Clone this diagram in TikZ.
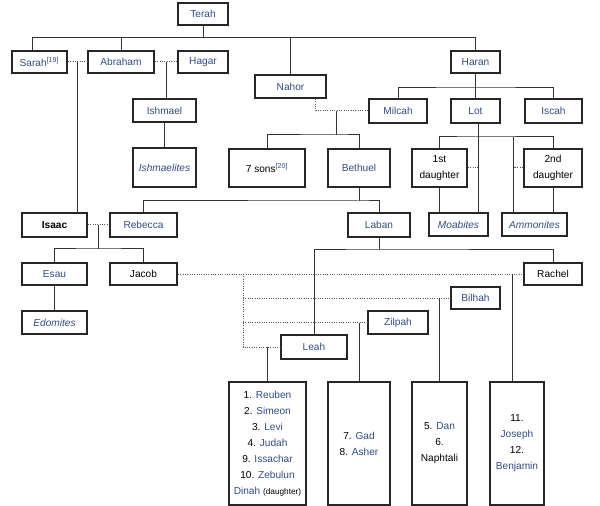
\documentclass[tikz,border=0pt]{standalone}
\usepackage{fontspec}
\setmainfont{Liberation Sans}
\usepackage{xcolor}
\usepackage{tikz}
\usetikzlibrary{calc}
\definecolor{linkblue}{RGB}{50,76,128}
\newcommand{\linkname}[1]{\textcolor{linkblue}{#1}}
\newcommand{\refmark}[1]{\textsuperscript{\linkname{[#1]}}}

\begin{document}
\begin{tikzpicture}[x=0.75pt, y=-0.75pt,
  person/.style={draw=black!85, line width=1.5pt, fill=white, minimum height=16.5pt,
    inner sep=1pt, align=center, font=\fontsize{7.6}{12}\selectfont},
  link/.style={text=linkblue},
  kin/.style={draw=black!80, line width=0.75pt},
  wed/.style={draw=black!65, line width=0.75pt, densely dotted}]
\useasboundingbox (0,0) rectangle (600,506);

% Terah and his children
\node[person, link, minimum width=37.5pt] (terah) at (203,14) {Terah};
\node[person, minimum width=41.25pt] (sarah) at (39.5,62) {\linkname{Sarah}\refmark{19}};
\node[person, link, minimum width=49.5pt] (abraham) at (121,62) {Abraham};
\node[person, link, minimum width=37.5pt] (hagar) at (203,62) {Hagar};
\node[person, link, minimum width=53.25pt, minimum height=17.25pt] (nahor) at (290.5,86.5) {Nahor};
\node[person, link, minimum width=36.75pt] (haran) at (475.5,62) {Haran};

% Haran's children
\node[person, link, minimum width=43.5pt, minimum height=18pt] (milcah) at (398,111) {Milcah};
\node[person, link, minimum width=36.75pt, minimum height=18pt] (lot) at (475.5,111) {Lot};
\node[person, link, minimum width=42.75pt, minimum height=18pt] (iscah) at (553.5,111) {Iscah};

% Ishmael
\node[person, link, minimum width=47.25pt, minimum height=17.25pt] (ishmael) at (164.5,110.5) {Ishmael};
\node[person, link, minimum width=47.25pt, minimum height=29.25pt] (ishmaelites) at (164.5,167.5) {\textit{Ishmaelites}};

% Nahor's and Lot's descendants
\node[person, minimum width=57pt, minimum height=28.5pt] (sevensons) at (267,168) {7 sons\refmark{20}};
\node[person, link, minimum width=46.5pt, minimum height=28.5pt] (bethuel) at (359,168) {Bethuel};
\node[person, minimum width=41.25pt, minimum height=28.5pt] (firstdaughter) at (439.5,168) {1st\\daughter};
\node[person, minimum width=43.5pt, minimum height=28.5pt] (seconddaughter) at (553,168) {2nd\\daughter};
\node[person, link, minimum width=44.25pt, minimum height=17.25pt] (moabites) at (458.5,224.5) {\textit{Moabites}};
\node[person, link, minimum width=48.75pt, minimum height=17.25pt] (ammonites) at (534.5,224.5) {\textit{Ammonites}};

% Isaac, Rebecca, Laban
\node[person, minimum width=48.75pt, minimum height=18pt] (isaac) at (54.5,225) {\textbf{Isaac}};
\node[person, link, minimum width=50.25pt, minimum height=18pt] (rebecca) at (143.5,225) {Rebecca};
\node[person, link, minimum width=46.5pt, minimum height=18pt] (laban) at (379,225) {Laban};

% Esau, Jacob and the wives
\node[person, link, minimum width=48.75pt] (esau) at (54.5,274) {Esau};
\node[person, minimum width=50.25pt] (jacob) at (143.5,274) {Jacob};
\node[person, link, minimum width=48.75pt, minimum height=17.25pt] (edomites) at (54.5,322.5) {\textit{Edomites}};
\node[person, minimum width=43.5pt] (rachel) at (553,274) {Rachel};
\node[person, link, minimum width=36.75pt] (bilhah) at (475.5,298) {Bilhah};
\node[person, link, minimum width=45pt, minimum height=17.25pt] (zilpah) at (398,322.5) {Zilpah};
\node[person, link, minimum width=49.5pt, minimum height=18pt] (leah) at (314,347) {Leah};

% Sons of Jacob
\node[person, minimum width=57.75pt, minimum height=92.25pt] (leahsons) at (267.5,443.5)
  {1. \linkname{Reuben}\\2. \linkname{Simeon}\\3. \linkname{Levi}\\4. \linkname{Judah}\\
   9. \linkname{Issachar}\\10. \linkname{Zebulun}\\\linkname{Dinah} {\fontsize{6.2}{7}\selectfont(daughter)}};
\node[person, minimum width=46.5pt, minimum height=92.25pt] (zilpahsons) at (359,443.5)
  {7. \linkname{Gad}\\8. \linkname{Asher}};
\node[person, minimum width=41.25pt, minimum height=92.25pt] (bilhahsons) at (439.5,443.5)
  {5. \linkname{Dan}\\6.\\Naphtali};
\node[person, minimum width=40.5pt, minimum height=92.25pt] (rachelsons) at (517,443.5)
  {11.\\\linkname{Joseph}\\12.\\\linkname{Benjamin}};

% Terah's line
\coordinate (terahbar) at (0,38);
\draw[kin] (terah) -- (terah |- terahbar);
\draw[kin] ([xshift=-4.9pt]sarah.north) |- (haran.north |- terahbar) -- (haran.north);
\draw[kin] (abraham) -- (abraham |- terahbar);
\draw[kin] (nahor) -- (nahor |- terahbar);

% Abraham's wives
\draw[wed] (sarah) -- (abraham);
\draw[wed] (abraham) -- (hagar);
\coordinate (sarahabraham) at ($(sarah.east)!0.5!(abraham.west)$);
\coordinate (abrahamhagar) at ($(abraham.east)!0.5!(hagar.west)$);
\draw[kin] (sarahabraham) -- (sarahabraham |- isaac.north);
\draw[kin] (abrahamhagar) -- (abrahamhagar |- ishmael.north);
\draw[kin] (ishmael) -- (ishmaelites);

% Nahor and Milcah
\draw[wed] ([xshift=19.1pt]nahor.south) |- (milcah);
\coordinate (nahormilcah) at ([xshift=-24pt]milcah.west);
\draw[kin] (nahormilcah) -- ++(0,24) coordinate (nahorbar);
\draw[kin] (sevensons) |- (nahorbar) -| (bethuel);

% Haran's line
\coordinate (haranbar) at ($(haran.south)+(0,14)$);
\draw[kin] (haran) -- (lot);
\draw[kin] (milcah) |- (haranbar) -| (iscah);

% Lot and his daughters
\coordinate (lotbar) at ($(lot.south)+(0,13)$);
\coordinate (lotline) at ([xshift=2.25pt]lot.south);
\coordinate (lotline2) at ([xshift=-15.75pt]ammonites.north);
\draw[kin] (firstdaughter) |- (lotbar) -| (seconddaughter);
\draw[kin] (lotline) -- (lotline |- moabites.north);
\draw[kin] (lotline2) -- (lotline2 |- lotbar);
\draw[kin] (firstdaughter) -- (firstdaughter |- moabites.north);
\draw[kin] (seconddaughter) -- (seconddaughter |- ammonites.north);
\draw[wed] (firstdaughter) -- (firstdaughter -| lotline);
\draw[wed] (seconddaughter) -- (seconddaughter -| lotline2);

% Bethuel's children
\coordinate (bethuelbar) at ($(bethuel.south)+(0,13)$);
\draw[kin] (bethuel) -- (bethuelbar);
\draw[kin] (rebecca) |- (bethuelbar) -| (laban);

% Isaac and Rebecca
\draw[wed] (isaac) -- (rebecca);
\coordinate (isaacrebecca) at ($(isaac.east)!0.5!(rebecca.west)$);
\draw[kin] (isaacrebecca) -- ++(0,24) coordinate (isaacbar);
\draw[kin] (esau) |- (isaacbar) -| (jacob);
\draw[kin] (esau) -- (edomites);

% Laban's daughters
\coordinate (labanbar) at ($(laban.south)+(0,12)$);
\draw[kin] (laban) -- (labanbar);
\draw[kin] (leah) |- (labanbar) -| (rachel);

% Jacob's wives
\coordinate (jacobline) at ($(jacob.east)+(65,0)$);
\draw[wed] (jacob) -- (rachel);
\draw[wed] (jacobline) |- (leah);
\draw[wed] (jacobline |- bilhah) -- (bilhah);
\draw[wed] (jacobline |- zilpah) -- (zilpah);

% Jacob's children
\draw[kin] (leahsons) -- (leahsons |- leah);
\draw[kin] (zilpahsons) -- (zilpahsons |- zilpah);
\draw[kin] (bilhahsons) -- (bilhahsons |- bilhah);
\draw[kin] ([xshift=-3.75pt]rachelsons.north) -- ([xshift=-3.75pt]rachelsons.north |- rachel);
\end{tikzpicture}
\end{document}
